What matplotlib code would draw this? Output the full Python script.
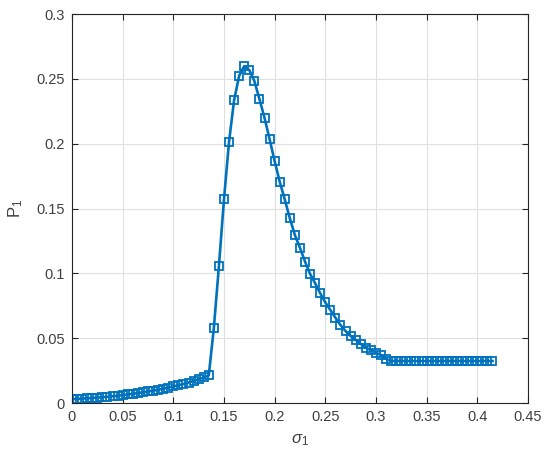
import numpy as np
import matplotlib.pyplot as plt

# sigma_1 values (step ~0.005) and P_1
sigma1 = [0.000, 0.005, 0.010, 0.015, 0.020, 0.025, 0.030, 0.035, 0.040, 0.045,
          0.050, 0.055, 0.060, 0.065, 0.070, 0.075, 0.080, 0.085, 0.090, 0.095,
          0.100, 0.105, 0.110, 0.115, 0.120, 0.125, 0.130, 0.135, 0.140, 0.145,
          0.150, 0.155, 0.160, 0.165, 0.170, 0.175, 0.180, 0.185, 0.190, 0.195,
          0.200, 0.205, 0.210, 0.215, 0.220, 0.225, 0.230, 0.235, 0.240, 0.245,
          0.250, 0.255, 0.260, 0.265, 0.270, 0.275, 0.280, 0.285, 0.290, 0.295,
          0.300, 0.305, 0.310, 0.315, 0.320, 0.325, 0.330, 0.335, 0.340, 0.345,
          0.350, 0.355, 0.360, 0.365, 0.370, 0.375, 0.380, 0.385, 0.390, 0.395,
          0.400, 0.405, 0.410, 0.415]
p1 = [0.0030, 0.0032, 0.0034, 0.0036, 0.0039, 0.0042, 0.0045, 0.0048, 0.0052, 0.0056,
      0.0061, 0.0066, 0.0071, 0.0077, 0.0083, 0.0089, 0.0096, 0.0103, 0.0111, 0.0119,
      0.0128, 0.0137, 0.0147, 0.0158, 0.0170, 0.0183, 0.0197, 0.0213, 0.0578, 0.1056,
      0.1570, 0.2015, 0.2336, 0.2524, 0.2598, 0.2567, 0.2483, 0.2344, 0.2200, 0.2035,
      0.1866, 0.1706, 0.1570, 0.1424, 0.1295, 0.1197, 0.1090, 0.0995, 0.0923, 0.0846,
      0.0776, 0.0717, 0.0658, 0.0601, 0.0555, 0.0517, 0.0486, 0.0455, 0.0426, 0.0409,
      0.0388, 0.0370, 0.0340, 0.0324, 0.0324, 0.0324, 0.0324, 0.0324, 0.0324, 0.0324,
      0.0324, 0.0324, 0.0324, 0.0324, 0.0324, 0.0324, 0.0324, 0.0324, 0.0324, 0.0324,
      0.0324, 0.0324, 0.0324, 0.0324]

xticks = [0, 0.05, 0.1, 0.15, 0.2, 0.25, 0.3, 0.35, 0.4, 0.45]
yticks = [0, 0.05, 0.1, 0.15, 0.2, 0.25, 0.3]

plt.rcParams['font.family'] = ['Liberation Sans', 'DejaVu Sans']
plt.rcParams['mathtext.fontset'] = 'custom'
plt.rcParams['mathtext.rm'] = 'Liberation Sans'
plt.rcParams['mathtext.it'] = 'Liberation Sans:italic'

fig = plt.figure(figsize=(5.5, 4.61), dpi=100)
ax = fig.add_axes([0.1309, 0.1258, 0.829, 0.8438])

ax.plot(sigma1, p1, color='#0072BD', linewidth=1.9, marker='s', markersize=5.2,
        markerfacecolor='none', markeredgewidth=1.3, markeredgecolor='#0072BD')

ax.set_xlim(0, 0.45)
ax.set_ylim(0, 0.3)
ax.set_xticks(xticks)
ax.set_yticks(yticks)
ax.set_xticklabels(['0', '0.05', '0.1', '0.15', '0.2', '0.25', '0.3', '0.35', '0.4', '0.45'])
ax.set_yticklabels(['0', '0.05', '0.1', '0.15', '0.2', '0.25', '0.3'])

ax.grid(True, color='#dfdfdf', linewidth=0.8)
ax.set_axisbelow(True)
for s in ax.spines.values():
    s.set_color('#262626')
    s.set_linewidth(0.8)
ax.tick_params(direction='in', length=4, width=0.8, colors='#262626',
               labelsize=10.5, top=True, right=True, pad=5)
for lbl in ax.get_xticklabels() + ax.get_yticklabels():
    lbl.set_color('#404040')

ax.set_xlabel(r'$\sigma_1$', fontsize=12, color='#404040', labelpad=6)
ax.set_ylabel(r'P$_1$', fontsize=12, color='#404040', labelpad=8)

fig.savefig('out.png', dpi=100)
